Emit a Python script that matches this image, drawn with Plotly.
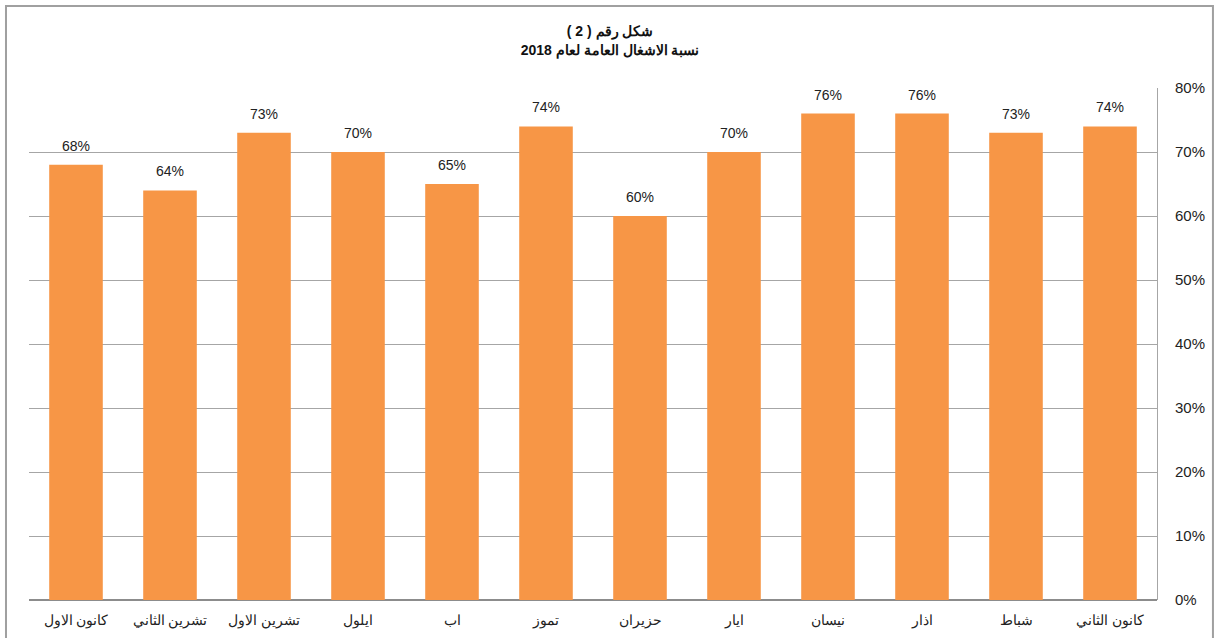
import plotly.graph_objects as go

# Months listed January -> December (axis is reversed, so January sits on the right)
months = ['كانون الثاني', 'شباط', 'اذار', 'نيسان', 'ايار', 'حزيران',
          'تموز', 'اب', 'ايلول', 'تشرين الاول', 'تشرين الثاني', 'كانون الاول']
occupancy = [0.74, 0.73, 0.76, 0.76, 0.70, 0.60, 0.74, 0.65, 0.70, 0.73, 0.64, 0.68]
y_ticks = [0, 0.1, 0.2, 0.3, 0.4, 0.5, 0.6, 0.7, 0.8]

bar_color = '#F79646'
font_family = 'Liberation Sans, Arial, sans-serif'

data = [go.Bar(x=months, y=occupancy, marker=dict(color=bar_color, line=dict(width=0)))]

# value labels sit a bit higher above the bars than plotly's 'outside' text
labels = [dict(x=m, y=v, text=f'{v:.0%}', showarrow=False, yanchor='bottom',
               yshift=9, font=dict(size=14, color='#222222'))
          for m, v in zip(months, occupancy)]

my_layout = go.Layout(
    width=1216, height=638,
    margin=dict(l=29, r=59, t=88, b=38),
    paper_bgcolor='white', plot_bgcolor='white',
    font=dict(family=font_family, color='#222222'),
    title=dict(text='<b>شكل رقم ( 2 )<br>نسبة الاشغال العامة لعام 2018</b>',
               x=0.5017, xanchor='center', y=0.943, yanchor='top',
               font=dict(size=14, color='#111111')),
    bargap=0.43,
    showlegend=False,
    annotations=labels,
    xaxis=dict(autorange='reversed', showgrid=False, ticks='', automargin=False,
               tickfont=dict(size=14), showline=False, ticklabelstandoff=10),
    yaxis=dict(side='right', range=[0, 0.8], tickvals=y_ticks, tickformat='.0%',
               showgrid=True, gridcolor='#A6A6A6', gridwidth=1, automargin=False,
               showline=True, linecolor='#A6A6A6', linewidth=1, mirror=False,
               zeroline=True, zerolinecolor='#8C8C8C', zerolinewidth=2,
               ticks='', ticklabelstandoff=14, tickfont=dict(size=15)),
    shapes=[dict(type='rect', xref='paper', yref='paper',
                 x0=-0.0204, x1=1.0496, y0=-0.2, y1=1.1602,
                 line=dict(color='#A0A0A0', width=2), layer='below')],
)

fig = go.Figure(data, my_layout)
# drop the default 8px body margin so the figure fills the window
fig.write_html('out.html', config={'displayModeBar': False},
               post_script="document.body.style.margin='0';")
